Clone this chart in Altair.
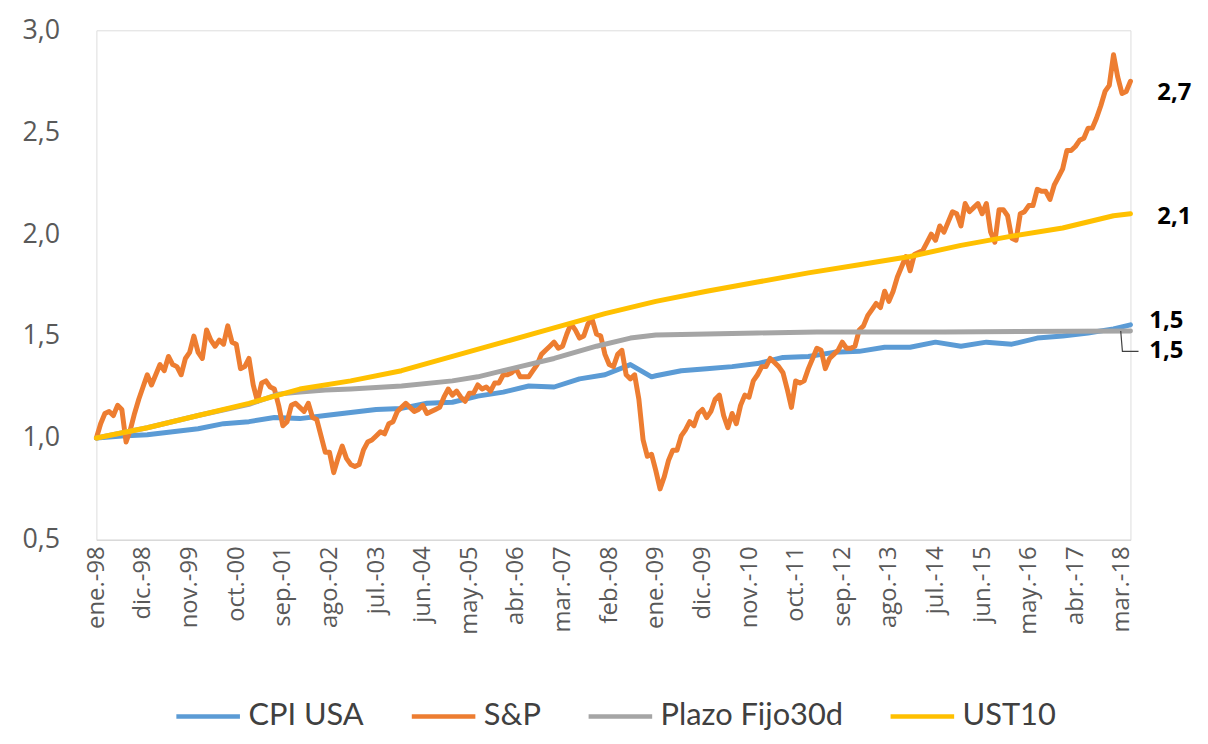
import json
import altair as alt
import pandas as pd

# S&P, monthly, ene-98 .. may-18 (index = months since ene-98)
sp_values = [
    1.00, 1.07, 1.12, 1.13, 1.11, 1.16, 1.14, 0.98, 1.04, 1.12, 1.19, 1.25,
    1.31, 1.26, 1.31, 1.36, 1.33, 1.40, 1.36, 1.35, 1.31, 1.39, 1.42, 1.50,
    1.42, 1.39, 1.53, 1.48, 1.45, 1.48, 1.46, 1.55, 1.47, 1.46, 1.34, 1.35,
    1.39, 1.26, 1.18, 1.27, 1.28, 1.25, 1.24, 1.16, 1.06, 1.08, 1.16, 1.17,
    1.15, 1.13, 1.17, 1.10, 1.09, 1.01, 0.93, 0.93, 0.83, 0.90, 0.96, 0.90,
    0.87, 0.86, 0.87, 0.94, 0.98, 0.99, 1.01, 1.03, 1.02, 1.07, 1.08, 1.13,
    1.15, 1.17, 1.15, 1.13, 1.14, 1.16, 1.12, 1.13, 1.14, 1.15, 1.20, 1.24,
    1.21, 1.23, 1.20, 1.18, 1.22, 1.22, 1.26, 1.24, 1.25, 1.23, 1.27, 1.27,
    1.31, 1.31, 1.32, 1.34, 1.30, 1.30, 1.30, 1.33, 1.36, 1.41, 1.43, 1.45,
    1.47, 1.44, 1.45, 1.51, 1.56, 1.53, 1.49, 1.50, 1.56, 1.58, 1.51, 1.50,
    1.41, 1.36, 1.35, 1.41, 1.43, 1.31, 1.29, 1.31, 1.19, 0.99, 0.91, 0.92,
    0.84, 0.75, 0.81, 0.89, 0.94, 0.94, 1.01, 1.04, 1.08, 1.06, 1.12, 1.14,
    1.10, 1.13, 1.19, 1.21, 1.11, 1.05, 1.12, 1.07, 1.16, 1.21, 1.20, 1.28,
    1.31, 1.35, 1.35, 1.39, 1.37, 1.35, 1.32, 1.24, 1.15, 1.28, 1.27, 1.28,
    1.34, 1.39, 1.44, 1.43, 1.34, 1.39, 1.41, 1.43, 1.47, 1.44, 1.44, 1.45,
    1.53, 1.55, 1.60, 1.63, 1.66, 1.64, 1.72, 1.67, 1.72, 1.79, 1.84, 1.89,
    1.82, 1.90, 1.91, 1.92, 1.96, 2.00, 1.97, 2.04, 2.01, 2.06, 2.11, 2.10,
    2.04, 2.15, 2.11, 2.13, 2.15, 2.10, 2.15, 2.01, 1.96, 2.12, 2.12, 2.09,
    1.98, 1.97, 2.10, 2.11, 2.14, 2.14, 2.22, 2.21, 2.21, 2.17, 2.24, 2.28,
    2.32, 2.41, 2.41, 2.43, 2.46, 2.47, 2.52, 2.52, 2.57, 2.63, 2.70, 2.73,
    2.88, 2.77, 2.69, 2.70, 2.75,
]

cpi_months = [0, 6, 12, 18, 24, 30, 36, 42, 48, 54, 60, 66, 72, 78, 84, 90,
              96, 102, 108, 114, 120, 126, 131, 132, 138, 144, 150, 156, 162,
              168, 174, 180, 186, 192, 198, 204, 210, 216, 222, 228, 234, 240, 244]
cpi_values = [1.000, 1.010, 1.016, 1.030, 1.045, 1.070, 1.080, 1.100, 1.095, 1.110,
              1.125, 1.140, 1.145, 1.170, 1.175, 1.205, 1.225, 1.255, 1.250, 1.290,
              1.310, 1.360, 1.300, 1.305, 1.330, 1.340, 1.350, 1.365, 1.395,
              1.400, 1.420, 1.425, 1.445, 1.445, 1.470, 1.450, 1.470, 1.460, 1.490,
              1.500, 1.515, 1.535, 1.555]

pf_months = [0, 12, 24, 36, 43, 48, 54, 60, 72, 84, 90, 96, 108, 118, 126, 132,
             144, 156, 170, 200, 244]
pf_values = [1.000, 1.050, 1.110, 1.165, 1.215, 1.225, 1.235, 1.240, 1.255, 1.280,
             1.300, 1.330, 1.390, 1.450, 1.490, 1.505, 1.510, 1.515, 1.520, 1.520, 1.525]

ust_months = [0, 12, 24, 36, 48, 60, 72, 84, 96, 108, 120, 132, 144, 156, 168,
              180, 192, 204, 216, 228, 240, 244]
ust_values = [1.00, 1.05, 1.11, 1.17, 1.24, 1.28, 1.33, 1.40, 1.47, 1.54, 1.61,
              1.67, 1.72, 1.765, 1.81, 1.85, 1.89, 1.945, 1.99, 2.03, 2.09, 2.10]

series_names = ["CPI USA", "S&P", "Plazo Fijo30d", "UST10"]
series_colors = ["#5B9BD5", "#ED7D31", "#A5A5A5", "#FFC000"]

tick_months = list(range(0, 243, 11))
tick_labels = ["ene.-98", "dic.-98", "nov.-99", "oct.-00", "sep.-01", "ago.-02",
               "jul.-03", "jun.-04", "may.-05", "abr.-06", "mar.-07", "feb.-08",
               "ene.-09", "dic.-09", "nov.-10", "oct.-11", "sep.-12", "ago.-13",
               "jul.-14", "jun.-15", "may.-16", "abr.-17", "mar.-18"]
y_ticks = [0.5, 1.0, 1.5, 2.0, 2.5, 3.0]

end_label_text = ["2,7", "2,1", "1,5", "1,5"]
end_label_y = [2.69, 2.083, 1.575, 1.425]
end_label_dx = [27, 27, 19, 19]

rows = []
for m, v in zip(cpi_months, cpi_values):
    rows.append({"series": "CPI USA", "k": 0, "month": m, "value": v})
for m, v in enumerate(sp_values):
    rows.append({"series": "S&P", "k": 1, "month": m, "value": v})
for m, v in zip(pf_months, pf_values):
    rows.append({"series": "Plazo Fijo30d", "k": 2, "month": m, "value": v})
for m, v in zip(ust_months, ust_values):
    rows.append({"series": "UST10", "k": 3, "month": m, "value": v})
df = pd.DataFrame(rows)

last_month = len(sp_values) - 1
x_domain = [0, last_month]
x_scale = alt.Scale(domain=x_domain, nice=False, zero=False)
y_scale = alt.Scale(domain=[0.5, 3.0], nice=False, zero=False)

x_label_expr = f"{json.dumps(tick_labels)}[indexof({json.dumps(tick_months)}, datum.value)]"

x_enc = alt.X(
    "month:Q",
    scale=x_scale,
    axis=alt.Axis(
        values=tick_months, labelExpr=x_label_expr, labelAngle=-90,
        labelFontSize=24, labelColor="#595959", labelFont="Open Sans",
        labelPadding=6, ticks=False, tickSize=0, grid=False,
        domainColor="#D9D9D9", domainWidth=1.5, labelOverlap=False,
        labelBound=False, labelFlush=False,
    ),
    title=None,
)
y_enc = alt.Y(
    "value:Q",
    scale=y_scale,
    axis=alt.Axis(
        values=y_ticks, labelExpr="replace(format(datum.value, '.1f'), '.', ',')",
        labelFontSize=27, labelColor="#595959", labelFont="Open Sans",
        labelPadding=37, ticks=False, tickSize=0, domain=False, grid=False,
        labelOverlap=False,
    ),
    title=None,
)

legend = alt.Legend(
    orient="none", legendX=78, legendY=656, direction="horizontal", title=None,
    symbolType="stroke", symbolStrokeWidth=4.5, symbolSize=4096,
    labelFontSize=31, labelFont="Lato", labelColor="#404040", labelLimit=500,
    labelOffset=6, columnPadding=38, symbolOpacity=1,
)

lines = (
    alt.Chart(df)
    .mark_line(strokeWidth=5, strokeCap="round", strokeJoin="round")
    .encode(
        x=x_enc,
        y=y_enc,
        color=alt.Color(
            "series:N",
            scale=alt.Scale(domain=series_names, range=series_colors),
            sort=series_names,
            legend=legend,
        ),
        order="k:Q",
    )
)

layers = [lines]

# leader line for the Plazo Fijo label
pf_last = pf_values[-1]
leader_df = pd.DataFrame({
    "month": [last_month - 2.3, last_month - 1.9, last_month + 1.9],
    "value": [pf_last, end_label_y[3], end_label_y[3]],
    "order": [0, 1, 2],
})
layers.append(
    alt.Chart(leader_df).mark_line(color="#404040", strokeWidth=1.2).encode(
        x=alt.X("month:Q", scale=x_scale),
        y=alt.Y("value:Q", scale=y_scale),
        order="order:Q",
    )
)

for txt, yv, dx in zip(end_label_text, end_label_y, end_label_dx):
    ldf = pd.DataFrame({"month": [last_month], "value": [yv], "label": [txt]})
    layers.append(
        alt.Chart(ldf).mark_text(
            align="left", baseline="middle", dx=dx, fontSize=24,
            fontWeight="bold", font="Open Sans", color="#000000",
        ).encode(
            x=alt.X("month:Q", scale=x_scale),
            y=alt.Y("value:Q", scale=y_scale),
            text="label:N",
        )
    )

chart = (
    alt.layer(*layers)
    .properties(
        width=1041, height=513,
        autosize=alt.AutoSizeParams(type="none"),
        padding={"left": 89, "top": 20, "right": 70, "bottom": 195},
    )
    .configure_view(stroke=None)
    .configure(background="white")
)

chart.save("out.html", embed_options={"renderer": "svg", "actions": False})
